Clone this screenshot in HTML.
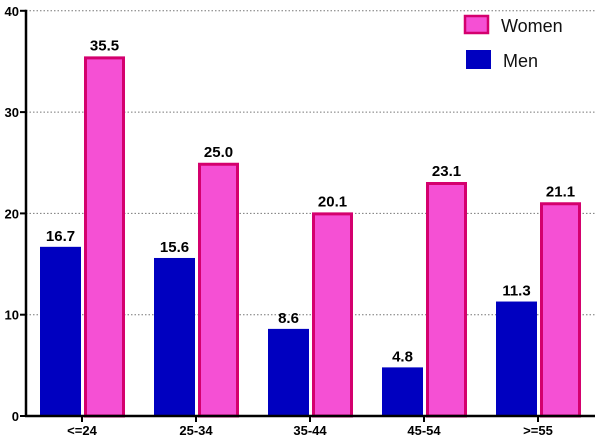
<!DOCTYPE html>
<html><head><meta charset="utf-8"><style>
body{margin:0;background:#fff;}
svg{display:block;font-family:"Liberation Sans",sans-serif;}
</style></head><body>
<svg id="chart" width="600" height="445">
<g id="grid"></g><g id="bars"></g><g id="axes"></g>
<g>
<rect x="465" y="16" width="23" height="17" fill="#f550d4" stroke="#d4006e" stroke-width="2.5"/>
<text x="501" y="32" font-size="18" fill="#111">Women</text>
<rect x="466" y="50" width="25" height="19" fill="#0000c0"/>
<text x="503" y="67" font-size="18" fill="#111">Men</text>
</g>
</svg>
<script>
const categories=["<=24","25-34","35-44","45-54",">=55"];
const men=[16.7,15.6,8.6,4.8,11.3];
const women=[35.5,25.0,20.1,23.1,21.1];
const yTicks=[0,10,20,30,40];
const NS="http://www.w3.org/2000/svg";
const x0=26,y0=416,pxPer=10.13,step=114,first=82;
const y=v=>y0-v*pxPer;
const xc=i=>first+i*step;
function mk(tag,attrs,parent,txt){const e=document.createElementNS(NS,tag);for(const k in attrs)e.setAttribute(k,attrs[k]);if(txt!==undefined)e.textContent=txt;document.getElementById(parent).appendChild(e);return e;}
yTicks.forEach(t=>{
  if(t>0){const g=mk('line',{x1:x0,x2:595,y1:y(t),y2:y(t),stroke:'#777','stroke-dasharray':'1.5,2','stroke-width':1},'grid');
  
  }
  const tk=mk('line',{x1:x0-6,x2:x0,y1:y(t),y2:y(t),stroke:'#000','stroke-width':2},'axes');
  
  
  const l=mk('text',{x:x0-7,y:y(t)+5,'text-anchor':'end','font-size':13,'font-weight':'bold'},'axes',t);
  
  
});
categories.forEach((c,i)=>{
  const cx=xc(i);
  const mb=mk('rect',{x:cx-42,y:y(men[i]),width:41,height:y0-y(men[i]),fill:'#0000c0'},'bars');
  
  
  const ml=mk('text',{x:cx-21.5,y:y(men[i])-6,'text-anchor':'middle','font-size':15,'font-weight':'bold'},'bars',men[i].toFixed(1));
  
  
  const wb=mk('rect',{x:cx+3.5,y:y(women[i])+1.5,width:38,height:y0-y(women[i])-1.5,fill:'#f550d4',stroke:'#d4006e','stroke-width':3},'bars');
  
  
  const wl=mk('text',{x:cx+22.5,y:y(women[i])-6,'text-anchor':'middle','font-size':15,'font-weight':'bold'},'bars',women[i].toFixed(1));
  
  
  const tk=mk('line',{x1:cx,x2:cx,y1:y0,y2:y0+6,stroke:'#000','stroke-width':2},'axes');
  
  
  const cl=mk('text',{x:cx,y:y0+19,'text-anchor':'middle','font-size':13,'font-weight':'bold'},'axes',c);
  
  
});
const ya=mk('line',{x1:x0,x2:x0,y1:y(40)-1,y2:y0+1,stroke:'#000','stroke-width':2.5},'axes');


const xa=mk('line',{x1:x0-1,x2:595,y1:y0,y2:y0,stroke:'#000','stroke-width':2.5},'axes');


</script>
</body></html>
